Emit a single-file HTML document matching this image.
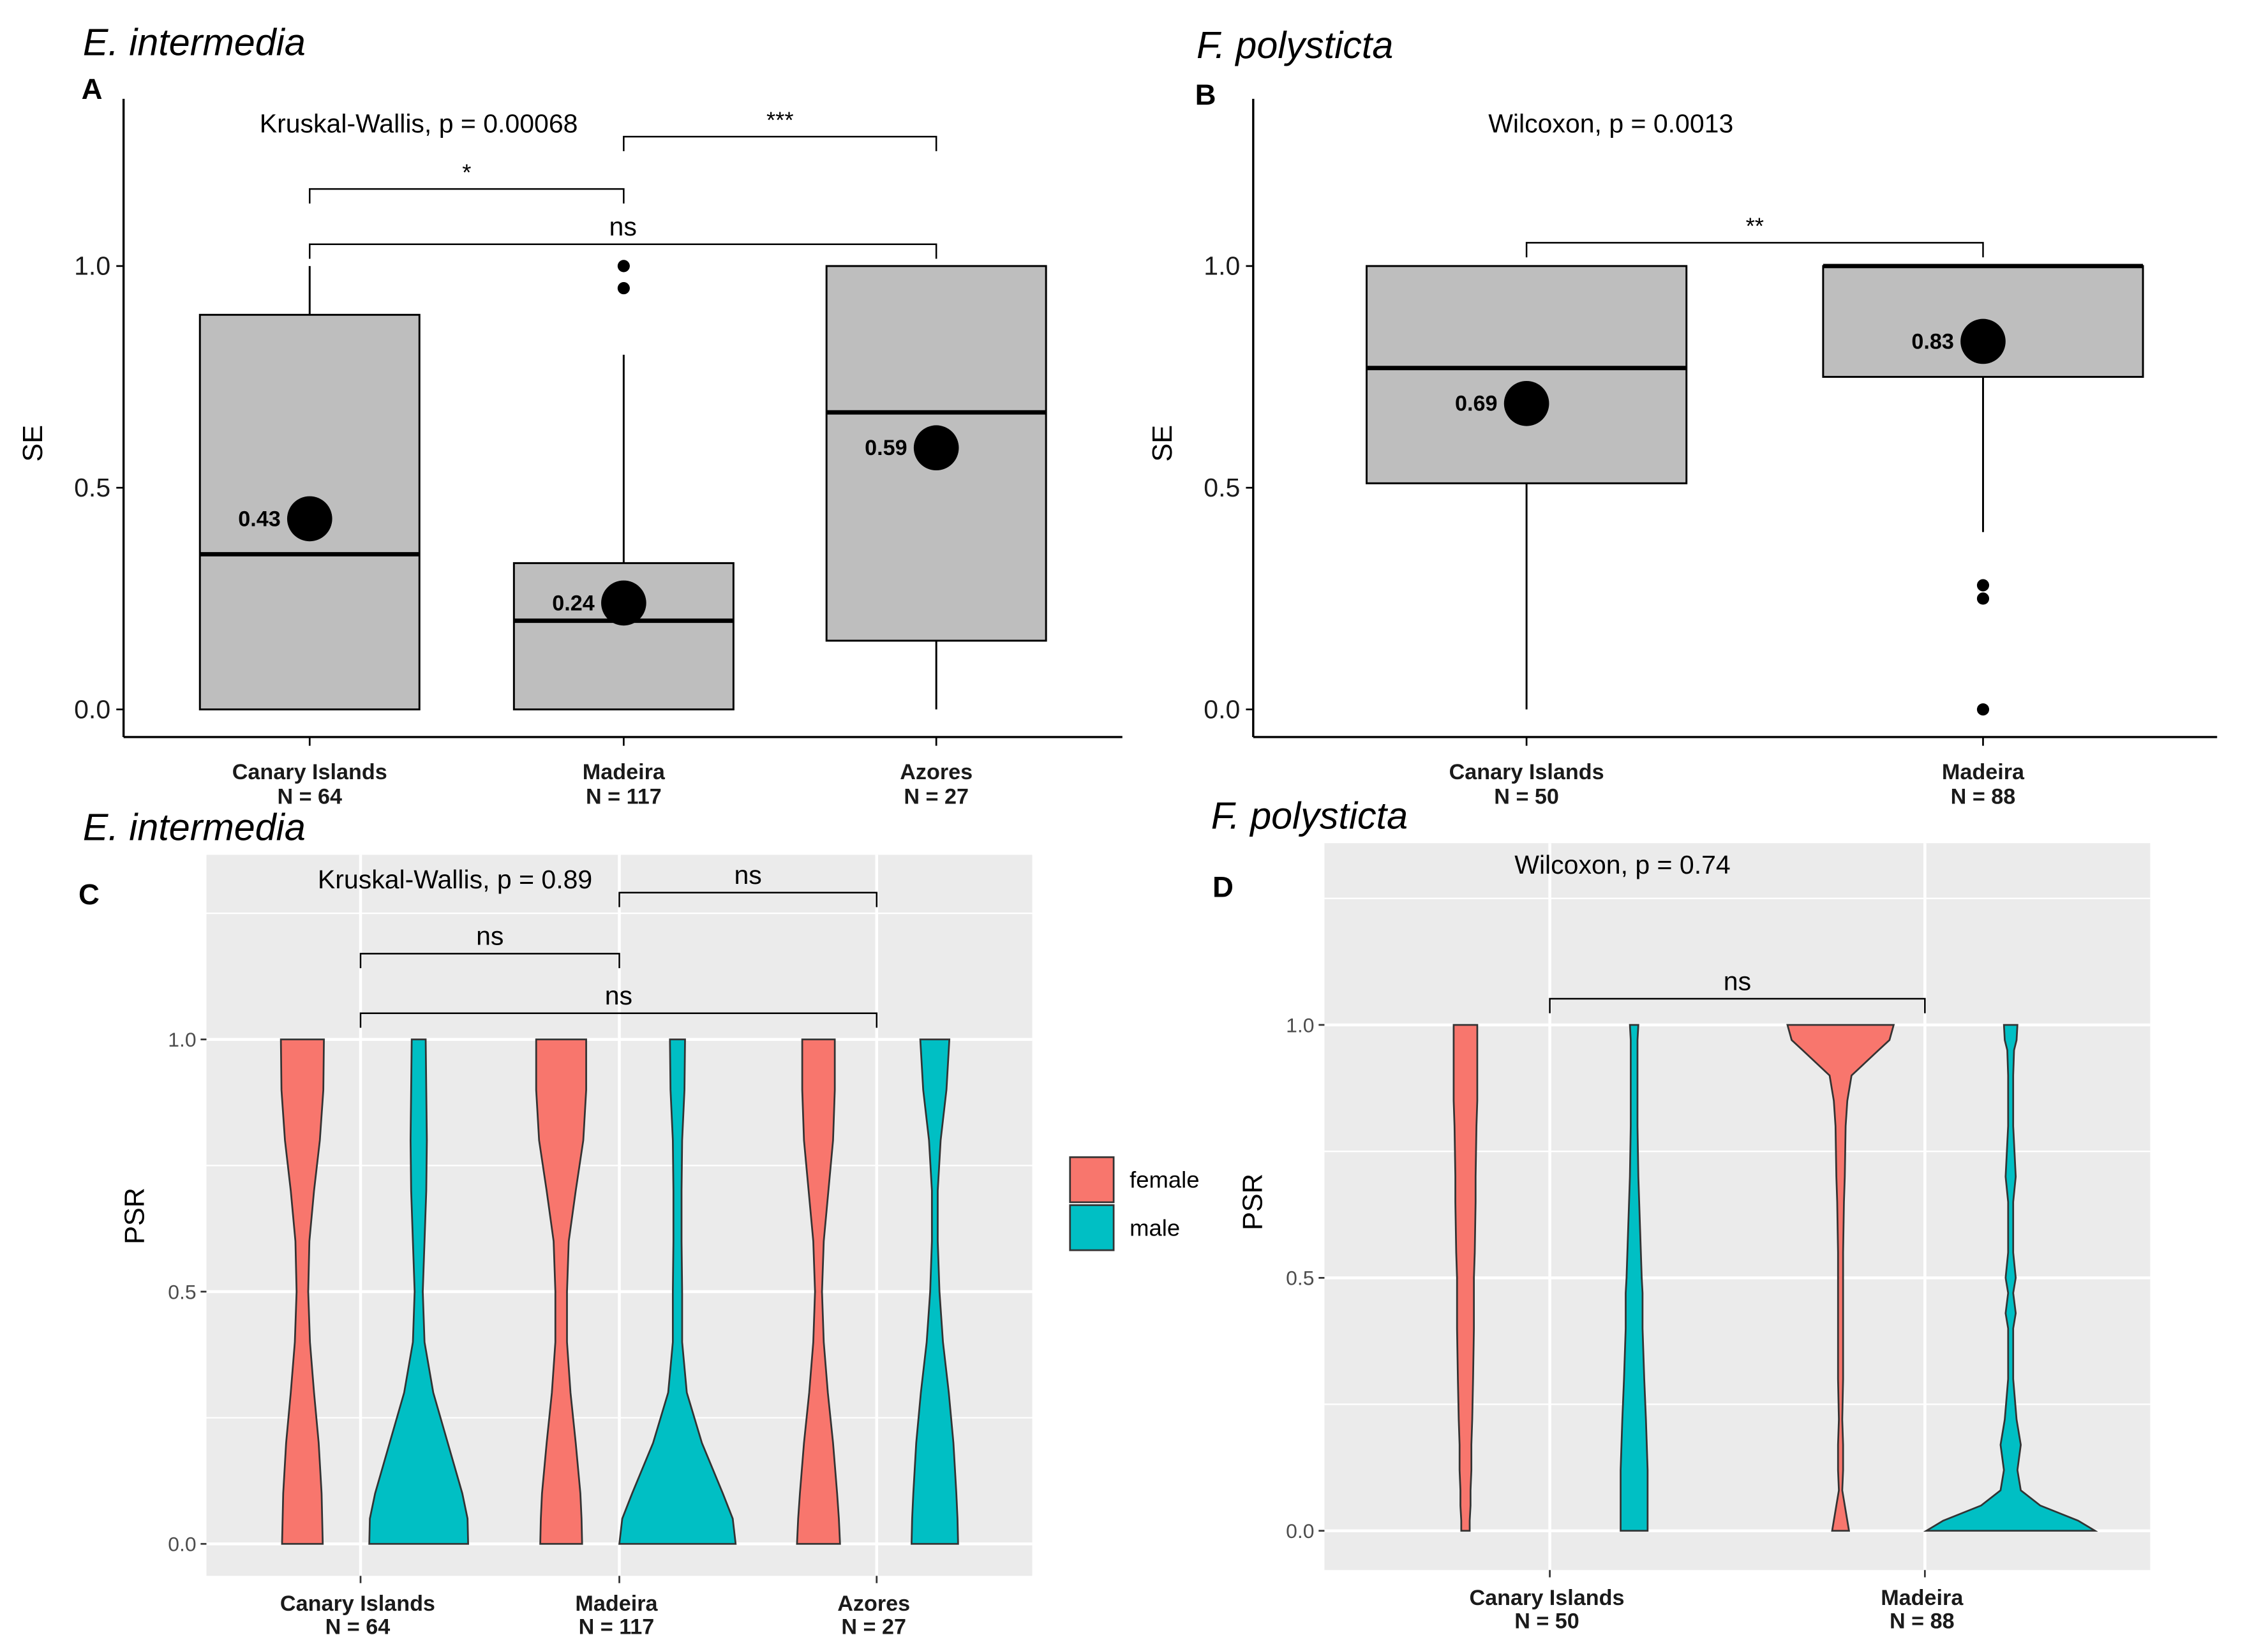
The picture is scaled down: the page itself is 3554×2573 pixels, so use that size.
<!DOCTYPE html>
<html><head><meta charset="utf-8"><style>
html,body{margin:0;padding:0;background:#fff}
svg{display:block}
text{font-family:"Liberation Sans",sans-serif}
</style></head><body>
<svg id="fig" xmlns="http://www.w3.org/2000/svg" width="3554" height="2573" viewBox="0 0 1560 1129.5" preserveAspectRatio="none">
<g id="root"></g>
</svg>
<script>
// ---------- Data ----------
const seCatsA = ["Canary Islands","Madeira","Azores"];
const seNA = ["N = 64","N = 117","N = 27"];
const boxLowA = [0,0,0.15];
const boxQ1A = [0,0,0.155];
const boxMedA = [0.35,0.2,0.67];
const boxQ3A = [0.89,0.33,1.0];
const whiskLowA = [0,0,0];
const whiskHighA = [1.0,0.8,1.0];
const meansA = [0.43,0.24,0.59];
const outliersA = [[],[1.0,0.95],[]];

const seCatsB = ["Canary Islands","Madeira"];
const seNB = ["N = 50","N = 88"];
const boxQ1B = [0.51,0.75];
const boxMedB = [0.77,1.0];
const boxQ3B = [1.0,1.0];
const whiskLowB = [0,0.4];
const whiskHighB = [1.0,1.0];
const meansB = [0.69,0.83];
const outliersB = [[],[0.28,0.25,0]];

const seTicks = [0,0.5,1.0];
const seTickLabels = ["0.0","0.5","1.0"];

const psrTicks = [0,0.5,1.0];
const psrTickLabels = ["0.0","0.5","1.0"];

// violin densities (relative half-widths) at given PSR levels
const vLevelsC = [0,0.05,0.1,0.2,0.3,0.4,0.5,0.6,0.7,0.8,0.9,1.0];
const vCanFemC = [0.35,0.34,0.33,0.28,0.2,0.13,0.1,0.12,0.2,0.3,0.36,0.37];
const vCanMaleC = [0.85,0.84,0.75,0.5,0.25,0.1,0.07,0.1,0.13,0.14,0.13,0.12];
const vMadFemC = [0.36,0.35,0.33,0.25,0.16,0.1,0.1,0.13,0.25,0.38,0.43,0.43];
const vMadMaleC = [1.0,0.95,0.78,0.42,0.16,0.08,0.08,0.07,0.07,0.08,0.12,0.13];
const vAzFemC = [0.37,0.35,0.32,0.25,0.16,0.09,0.06,0.09,0.17,0.25,0.28,0.28];
const vAzMaleC = [0.4,0.39,0.37,0.32,0.24,0.14,0.08,0.05,0.05,0.1,0.2,0.25];

const vLevelsD = [0,0.02,0.05,0.08,0.12,0.17,0.22,0.3,0.4,0.43,0.47,0.5,0.55,0.65,0.7,0.8,0.85,0.9,0.95,0.97,1.0];
const vCanFemD = [0.05,0.05,0.06,0.06,0.07,0.07,0.08,0.09,0.1,0.1,0.1,0.1,0.11,0.12,0.12,0.13,0.14,0.14,0.14,0.14,0.14];
const vCanMaleD = [0.16,0.16,0.16,0.16,0.16,0.15,0.14,0.12,0.1,0.1,0.1,0.09,0.08,0.06,0.05,0.04,0.04,0.04,0.04,0.04,0.05];
const vMadFemD = [0.1,0.08,0.05,0.02,0.03,0.03,0.02,0.03,0.03,0.03,0.03,0.03,0.03,0.04,0.05,0.06,0.08,0.13,0.45,0.58,0.63];
const vMadMaleD = [1.0,0.8,0.35,0.12,0.08,0.12,0.07,0.03,0.03,0.06,0.03,0.06,0.03,0.03,0.06,0.03,0.03,0.03,0.04,0.07,0.08];

// ---------- helpers ----------
const NS="http://www.w3.org/2000/svg";
const root=document.getElementById('root');
function el(tag,attrs,parent,text){const e=document.createElementNS(NS,tag);for(const k in attrs)e.setAttribute(k,attrs[k]);if(text!==undefined)e.textContent=text;(parent||root).appendChild(e);return e;}
function txt(x,y,s,opt,name){const e=el('text',Object.assign({x:x,y:y,'font-size':opt.size||18,'text-anchor':opt.anchor||'start',fill:opt.fill||'#000','font-weight':opt.weight||'normal','font-style':opt.style||'normal'},opt.extra||{}),opt.parent,s);


return e;}
function line(x1,y1,x2,y2,stroke,w,parent){return el('line',{x1,y1,x2,y2,stroke,'stroke-width':w},parent);}
function bracket(x1,x2,y,lab,parent,name){const g=el('g',{},parent);


el('path',{d:`M${x1},${y+10}V${y}H${x2}V${y+10}`,fill:'none',stroke:'#000','stroke-width':1.1},g);
txt((x1+x2)/2,y-6,lab,{size:lab==='ns'?18:16,anchor:'middle',parent:g},name+'-label');}

// ---------- Box panels ----------
function boxPanel(cfg){
  const g=el('g',{});
  
  
  const y=v=>cfg.y0-v*cfg.unit;
  line(cfg.ax,cfg.top,cfg.ax,cfg.axY,'#000',1.5,g);
  line(cfg.ax,cfg.axY,cfg.right,cfg.axY,'#000',1.5,g);
  seTicks.forEach((t,i)=>{line(cfg.ax-5,y(t),cfg.ax,y(t),'#000',1.2,g);
    txt(cfg.ax-9,y(t)+6,seTickLabels[i],{size:18,anchor:'end',fill:'#1a1a1a',parent:g},'y-tick-label');});
  txt(0,0,'SE',{size:19,anchor:'middle',parent:g,extra:{transform:`translate(${cfg.ax-56},${y(0.6)}) rotate(-90)`}},'y-axis-title');
  cfg.cats.forEach((c,i)=>{
    const cx=cfg.xs[i],hw=cfg.bw/2;
    const bg=el('g',{},g);
    
    
    line(cx,y(cfg.wl[i]),cx,y(cfg.q1[i]),'#000',1.3,bg);
    line(cx,y(cfg.q3[i]),cx,y(cfg.wh[i]),'#000',1.3,bg);
    el('rect',{x:cx-hw,y:y(cfg.q3[i]),width:cfg.bw,height:Math.max(0.01,y(cfg.q1[i])-y(cfg.q3[i])),fill:'#bebebe',stroke:'#000','stroke-width':1.3},bg);
    line(cx-hw,y(cfg.med[i]),cx+hw,y(cfg.med[i]),'#000',3,bg);
    cfg.out[i].forEach(o=>el('circle',{cx:cx,cy:y(o),r:4.2,fill:'#000'},bg));
    el('circle',{cx:cx,cy:y(cfg.mean[i]),r:15.5,fill:'#000'},bg);
    txt(cx-20,y(cfg.mean[i])+5,cfg.mean[i].toFixed(2),{size:15,anchor:'end',weight:'bold',parent:bg},'mean-label');
    line(cx,cfg.axY,cx,cfg.axY+6,'#000',1.2,g);
    txt(cx,cfg.axY+29,c,{size:15,anchor:'middle',weight:'bold',fill:'#1a1a1a',parent:g},'x-tick-label');
    txt(cx,cfg.axY+46,cfg.n[i],{size:15,anchor:'middle',weight:'bold',fill:'#1a1a1a',parent:g},'x-tick-n');
  });
  return y;
}
// Panel A
const yA=boxPanel({name:'panel-a',ax:85,top:68,axY:507,right:772,y0:488,unit:305,xs:[213,429,644],bw:151,cats:seCatsA,n:seNA,
  q1:boxQ1A,q3:boxQ3A,med:boxMedA,wl:whiskLowA,wh:whiskHighA,mean:meansA,out:outliersA});
txt(57,38,'E. intermedia',{size:26,style:'italic'},'title-a');
txt(56,68,'A',{size:20,weight:'bold'},'panel-label-a');
txt(288,91,'Kruskal-Wallis, p = 0.00068',{size:18,anchor:'middle'},'kruskal-a');
bracket(213,429,130,'*',null,'bracket-canary-madeira');
bracket(429,644,94,'***',null,'bracket-madeira-azores');
bracket(213,644,168,'ns',null,'bracket-canary-azores');

// Panel B
boxPanel({name:'panel-b',ax:862,top:68,axY:507,right:1525,y0:488,unit:305,xs:[1050,1364],bw:220,cats:seCatsB,n:seNB,
  q1:boxQ1B,q3:boxQ3B,med:boxMedB,wl:whiskLowB,wh:whiskHighB,mean:meansB,out:outliersB});
txt(823,40,'F. polysticta',{size:26,style:'italic'},'title-b');
txt(822,72,'B',{size:20,weight:'bold'},'panel-label-b');
txt(1108,91,'Wilcoxon, p = 0.0013',{size:18,anchor:'middle'},'wilcoxon-b');
bracket(1050,1364,167,'**',null,'bracket-b');

// ---------- Violin panels ----------
function violinPath(cx,levels,w,ys,scale){
  let right=levels.map((l,i)=>`${cx+w[i]*scale},${ys(l)}`);
  let left=levels.map((l,i)=>`${cx-w[i]*scale},${ys(l)}`).reverse();
  return 'M'+right.join('L')+'L'+left.join('L')+'Z';
}
function violinPanel(cfg){
  const g=el('g',{});
  
  
  const y=v=>cfg.y0-v*cfg.unit;
  el('rect',{x:cfg.px,y:cfg.py,width:cfg.pw,height:cfg.ph,fill:'#ebebeb'},g);
  [0.25,0.75,1.25].forEach(t=>line(cfg.px,y(t),cfg.px+cfg.pw,y(t),'#fff',1,g));
  psrTicks.forEach(t=>line(cfg.px,y(t),cfg.px+cfg.pw,y(t),'#fff',2,g));
  cfg.xs.forEach(x=>line(x,cfg.py,x,cfg.py+cfg.ph,'#fff',2,g));
  psrTicks.forEach((t,i)=>{line(cfg.px-4,y(t),cfg.px,y(t),'#333',1.2,g);
    txt(cfg.px-7,y(t)+5,psrTickLabels[i],{size:14,anchor:'end',fill:'#4d4d4d',parent:g},'y-tick-label');});
  txt(0,0,'PSR',{size:19,anchor:'middle',parent:g,extra:{transform:`translate(${cfg.px-43},${y(0.65)}) rotate(-90)`}},'y-axis-title');
  cfg.violins.forEach(v=>{
    const p=el('path',{d:violinPath(v.cx,v.levels,v.w,y,cfg.scale),fill:v.male?'#00bfc4':'#f8766d',stroke:'#333','stroke-width':1.2},g);
    
    
  });
  cfg.xs.forEach((x,i)=>{line(x,cfg.py+cfg.ph,x,cfg.py+cfg.ph+5,'#333',1.2,g);
    txt(x-2,cfg.py+cfg.ph+24,cfg.cats[i],{size:15,anchor:'middle',weight:'bold',fill:'#1a1a1a',parent:g},'x-tick-label');
    txt(x-2,cfg.py+cfg.ph+40,cfg.n[i],{size:15,anchor:'middle',weight:'bold',fill:'#1a1a1a',parent:g},'x-tick-n');});
}
violinPanel({name:'panel-c',px:142,py:588,pw:568,ph:496,y0:1062,unit:347,xs:[248,426,603],scale:40,
  cats:seCatsA,n:seNA,violins:[
  {cx:208,levels:vLevelsC,w:vCanFemC,name:'violin-canary-female'},
  {cx:288,levels:vLevelsC,w:vCanMaleC,male:1,name:'violin-canary-male'},
  {cx:386,levels:vLevelsC,w:vMadFemC,name:'violin-madeira-female'},
  {cx:466,levels:vLevelsC,w:vMadMaleC,male:1,name:'violin-madeira-male'},
  {cx:563,levels:vLevelsC,w:vAzFemC,name:'violin-azores-female'},
  {cx:643,levels:vLevelsC,w:vAzMaleC,male:1,name:'violin-azores-male'}]});
txt(57,578,'E. intermedia',{size:26,style:'italic'},'title-c');
txt(54,622,'C',{size:20,weight:'bold'},'panel-label-c');
txt(313,611,'Kruskal-Wallis, p = 0.89',{size:18,anchor:'middle'},'kruskal-c');
bracket(248,426,656,'ns',null,'bracket-c-canary-madeira');
bracket(426,603,614,'ns',null,'bracket-c-madeira-azores');
bracket(248,603,697,'ns',null,'bracket-c-canary-azores');

// legend
const lg=el('g',{});


const r1=el('rect',{x:736,y:796,width:30,height:31,fill:'#f8766d',stroke:'#333','stroke-width':1.2},lg);


const r2=el('rect',{x:736,y:829,width:30,height:31,fill:'#00bfc4',stroke:'#333','stroke-width':1.2},lg);


txt(777,817,'female',{size:16,parent:lg},'legend-label-female');
txt(777,850,'male',{size:16,parent:lg},'legend-label-male');

violinPanel({name:'panel-d',px:911,py:580,pw:568,ph:500,y0:1053,unit:348,xs:[1066,1324],scale:58,
  cats:seCatsB,n:seNB,violins:[
  {cx:1008,levels:vLevelsD,w:vCanFemD,name:'violin-d-canary-female'},
  {cx:1124,levels:vLevelsD,w:vCanMaleD,male:1,name:'violin-d-canary-male'},
  {cx:1266,levels:vLevelsD,w:vMadFemD,name:'violin-d-madeira-female'},
  {cx:1383,levels:vLevelsD,w:vMadMaleD,male:1,name:'violin-d-madeira-male'}]});
txt(833,570,'F. polysticta',{size:26,style:'italic'},'title-d');
txt(834,617,'D',{size:20,weight:'bold'},'panel-label-d');
txt(1116,601,'Wilcoxon, p = 0.74',{size:18,anchor:'middle'},'wilcoxon-d');
bracket(1066,1324,687,'ns',null,'bracket-d');
</script>
</body></html>
